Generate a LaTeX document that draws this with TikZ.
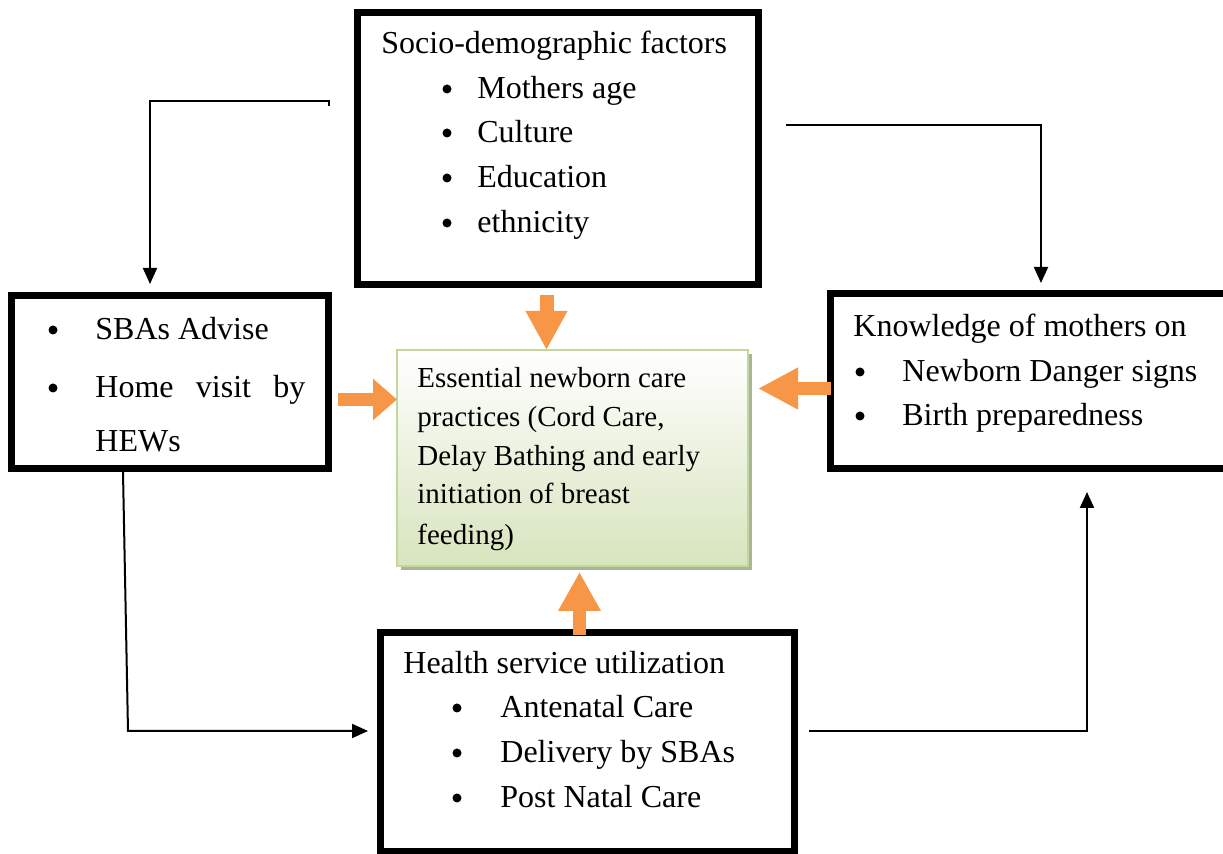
\documentclass[tikz,border=0pt]{standalone}
\usepackage{fontspec}
\setmainfont{Liberation Serif}
\usetikzlibrary{arrows.meta,shadows}
\definecolor{orng}{HTML}{F79646}
\definecolor{gborder}{HTML}{C3D69B}
\definecolor{gfill}{HTML}{D7E4BD}
\definecolor{gshadow}{HTML}{A8B596}
\begin{document}
\begin{tikzpicture}[x=0.5pt,y=-0.5pt,
  box/.style={draw=black,line width=3.5pt,fill=white,inner sep=0pt,outer sep=0pt,anchor=north west},
  cbox/.style={draw=gborder,line width=1pt,inner sep=0pt,outer sep=0pt,anchor=north west,
     top color=white,bottom color=gfill,
     drop shadow={shadow xshift=2pt,shadow yshift=-2pt,fill=gshadow,opacity=1}},
  txt/.style={inner sep=0pt,anchor=base west,font=\fontsize{16}{19}\selectfont},
  ctxt/.style={inner sep=0pt,anchor=base west,font=\fontsize{14.5}{17}\selectfont},
  bul/.style={circle,fill=black,inner sep=0pt,minimum size=4.5pt},
  conn/.style={draw=black,line width=1pt,-{Triangle[length=8pt,width=7pt]}},
  oarr/.style={draw=orng,line width=#1},
]
\useasboundingbox (0,0) rectangle (1223,854);

% boxes
\node[box,minimum width=200.5pt,minimum height=136pt] (top) at (357.5,12.5) {};
\node[box,minimum width=158.5pt,minimum height=86.5pt] (left) at (11.5,295.5) {};
\node[box,minimum width=198.75pt,minimum height=87.5pt] (right) at (830.5,293.5) {};
\node[box,minimum width=207pt,minimum height=109.75pt] (bottom) at (380.5,632.5) {};
\node[cbox,minimum width=175.5pt,minimum height=108pt] (ctr) at (397,350) {};

% top box text
\node[txt] (t0) at (381,54) {Socio-demographic factors};
\node[bul] (tb1) at (447,89) {};
\node[bul] (tb2) at (447,133) {};
\node[bul] (tb3) at (447,178) {};
\node[bul] (tb4) at (447,223) {};
\node[txt] (t1) at (477,99) {Mothers age};
\node[txt] (t2) at (477,143) {Culture};
\node[txt] (t3) at (477,188) {Education};
\node[txt] (t4) at (477,233) {ethnicity};

% left box text
\node[bul] (lb1) at (53,330) {};
\node[bul] (lb2) at (53,388) {};
\node[txt] (l1) at (95,340) {SBAs Advise};
\node[txt] (l2) at (95,398) {\makebox[105pt][s]{Home\hfill visit\hfill by}};
\node[txt] (l3) at (95,452) {HEWs};

% right box text
\node[txt] (r0) at (853,337) {Knowledge of mothers on};
\node[bul] (rb1) at (860,372) {};
\node[bul] (rb2) at (860,416) {};
\node[txt] (r1) at (902,382) {Newborn Danger signs};
\node[txt] (r2) at (902,426) {Birth preparedness};

% bottom box text
\node[txt] (b0) at (403,674) {Health service utilization};
\node[bul] (bb1) at (457,708) {};
\node[bul] (bb2) at (457,753) {};
\node[bul] (bb3) at (457,798) {};
\node[txt] (b1) at (500,718) {Antenatal Care};
\node[txt] (b2) at (500,763) {Delivery by SBAs};
\node[txt] (b3) at (500,808) {Post Natal Care};

% centre text
\node[ctxt] (c1) at (417,388) {Essential newborn care};
\node[ctxt] (c2) at (417,427) {practices (Cord Care,};
\node[ctxt] (c3) at (417,466) {Delay Bathing and early};
\node[ctxt] (c4) at (417,504) {initiation of breast};
\node[ctxt] (c5) at (417,545) {feeding)};

% connectors
\coordinate (s1) at (329,106);
\coordinate (e1) at (150,284);
\draw[conn] (s1) -- (329,101) -| (e1);
\coordinate (s2) at (786,125);
\coordinate (e2) at (1041,283);
\draw[conn] (s2) -| (e2);
\coordinate (s3) at (123,472);
\coordinate (e3) at (368,731);
\draw[conn] (s3) -- (128,731) -- (e3);
\coordinate (s4) at (809,731);
\coordinate (e4) at (1087,492);
\draw[conn] (s4) -| (e4);

% orange block arrows
\coordinate (oT) at (546.5,295);
\coordinate (oL) at (338,399.5);
\coordinate (oR) at (831,388.5);
\coordinate (oB) at (579.5,635);
\draw[oarr=7pt,-{Triangle[length=19.5pt,width=19.5pt]}] (oT) -- (oT |- ctr.north);
\draw[oarr=6.5pt,-{Triangle[length=12pt,width=20pt]}] (oL) -- (oL -| ctr.west);
\draw[oarr=6.5pt,-{Triangle[length=20pt,width=19.5pt]}] (oR) -- ([xshift=5pt]oR -| ctr.east);
\draw[oarr=6.5pt,-{Triangle[length=19.5pt,width=20pt]}] (oB) -- ([yshift=-3pt]oB |- ctr.south);
\end{tikzpicture}
\end{document}
